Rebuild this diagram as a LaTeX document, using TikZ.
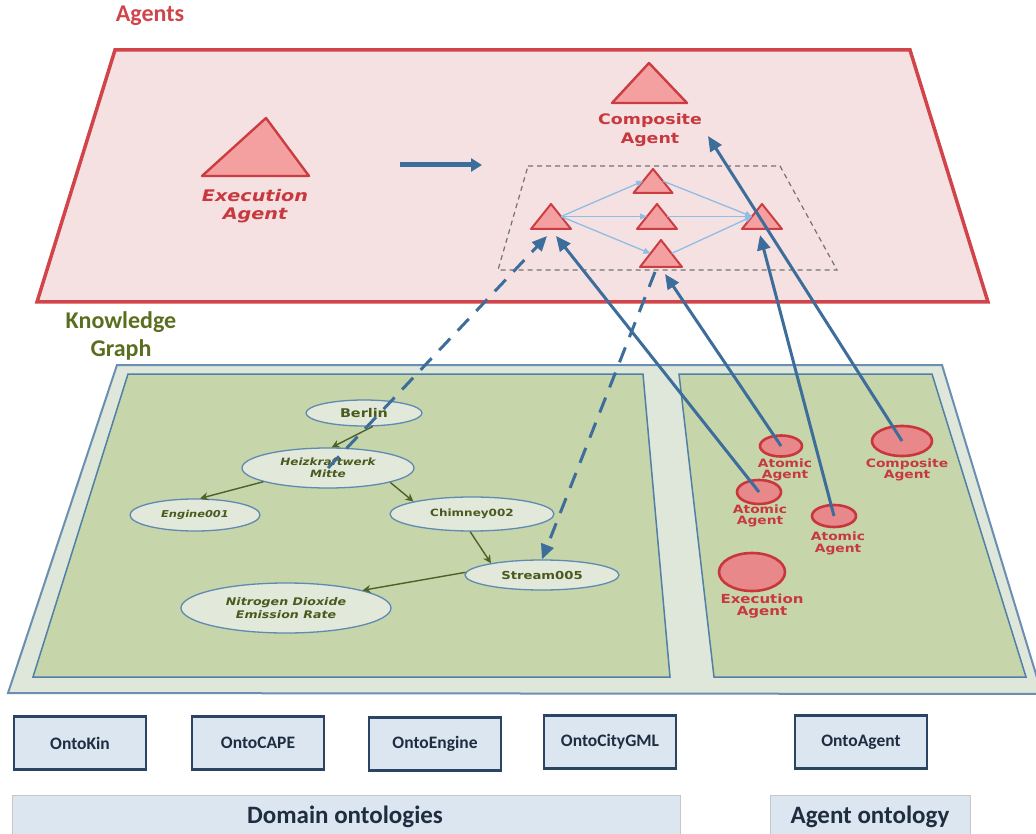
\documentclass[tikz,border=0pt]{standalone}
\usepackage{fontspec}
\setmainfont{Carlito}
\newfontfamily\vf[FakeStretch=1.2]{DejaVu Sans}
\usetikzlibrary{arrows.meta,shapes.geometric}

\definecolor{agred}{HTML}{D0444A}
\definecolor{planepink}{HTML}{F5E1E1}
\definecolor{trired}{HTML}{CC3D42}
\definecolor{trifill}{HTML}{F4A0A1}
\definecolor{lblred}{HTML}{C8393F}
\definecolor{kgouter}{HTML}{DEE7DA}
\definecolor{kgedge}{HTML}{6A8FB2}
\definecolor{kginner}{HTML}{C6D5AA}
\definecolor{kginedge}{HTML}{5080A8}
\definecolor{ellfill}{HTML}{E2E9DA}
\definecolor{elledge}{HTML}{5F8AB2}
\definecolor{kgtext}{HTML}{4A5A1E}
\definecolor{kgtitle}{HTML}{5B6E1F}
\definecolor{kgarrow}{HTML}{4D6226}
\definecolor{circfill}{HTML}{E8888B}
\definecolor{circedge}{HTML}{C8373C}
\definecolor{linkblue}{HTML}{3D6D9B}
\definecolor{flowblue}{HTML}{8FBDE6}
\definecolor{boxfill}{HTML}{DCE6F1}
\definecolor{boxedge}{HTML}{2C4463}
\definecolor{boxtext}{HTML}{1F2D40}

% one small agent triangle with anchor coordinates on its left and right flanks
\newcommand\smalltri[5]{%
  \draw[tri,line width=2pt] ({#2-#5},#4) -- (#2,#3) -- ({#2+#5},#4) -- cycle;
  \coordinate (#1-l) at ({#2-#5/2},{(#3+#4)/2});
  \coordinate (#1-r) at ({#2+#5/2},{(#3+#4)/2});
}

\begin{document}
\begin{tikzpicture}[x=1pt,y=-1pt,
  plane/.style={draw=agred, line width=3.5pt, fill=planepink},
  tri/.style={draw=trired, line width=2.4pt, fill=trifill, line join=round},
  redlbl/.style={text=lblred, align=center, inner sep=0pt},
  ell/.style={ellipse, draw=elledge, line width=1.3pt, fill=ellfill, inner sep=0pt,
    text=kgtext, align=center},
  circ/.style={ellipse, draw=circedge, line width=2.6pt, fill=circfill, inner sep=0pt},
  kgarr/.style={draw=kgarrow, line width=1.4pt, -{Stealth[length=8pt,width=8pt]}},
  link/.style={draw=linkblue, line width=3pt, -{Triangle[length=15pt,width=13pt]}},
  dlink/.style={link, dash pattern=on 16pt off 11pt},
  flow/.style={draw=flowblue, line width=1.3pt, -{Triangle[length=7pt,width=6pt]}},
  ontobox/.style={draw=boxedge, line width=2.8pt, fill=boxfill, minimum width=132pt,
    minimum height=53pt, text=boxtext, font=\bfseries\fontsize{17.5}{20}\selectfont},
  groupbox/.style={draw=black!22, line width=0.8pt, fill=boxfill},
  grouptxt/.style={text=boxtext, font=\bfseries\fontsize{25}{29}\selectfont}
]
\useasboundingbox (0,0) rectangle (1036,834);

% ---------------- agent layer ----------------
\draw[plane] (115,50) -- (910,50) -- (988,302) -- (37,302) -- cycle;
\node[text=agred, font=\bfseries\fontsize{24}{28}\selectfont] (agentsttl) at (150,16) {Agents};

\draw[tri] (202,176) -- (266,118) -- (309,176) -- cycle;
\node[redlbl, font=\vf\bfseries\itshape\fontsize{16}{18.5}\selectfont] (execlbl) at (255,206) {Execution\\Agent};

\draw[tri] (612,103) -- (649,63) -- (687,103) -- cycle;
\node[redlbl, font=\vf\bfseries\fontsize{14.5}{19}\selectfont] (complbl) at (650,130) {Composite\\Agent};

\coordinate (composeA) at (400,165);
\coordinate (composeB) at (482,165);
\draw[draw=linkblue, line width=5pt, -{Triangle[length=11pt,width=13pt]}] (composeA) -- (composeB);

% composite agent made of atomic agents
\draw[draw=black!55, line width=1.2pt, dash pattern=on 5pt off 4pt] (528,166) -- (780,166) -- (837,270) -- (498,270) -- cycle;
\smalltri{ta}{551}{204}{229}{20}
\smalltri{tb}{653}{169}{193}{19.5}
\smalltri{tc}{657}{204}{229}{20}
\smalltri{td}{661}{240}{267}{21}
\smalltri{te}{762}{204}{229}{20}
\draw[flow] (ta-r) -- (tb-l);
\draw[flow] (ta-r) -- (tc-l);
\draw[flow] (ta-r) -- (td-l);
\draw[flow] (tb-r) -- (te-l);
\draw[flow] (tc-r) -- (te-l);
\draw[flow] (td-r) -- (te-l);

% ---------------- knowledge graph layer ----------------
\node[text=kgtitle, align=center, font=\bfseries\fontsize{24}{28}\selectfont] (kgttl) at (121,336) {Knowledge\\Graph};

\draw[draw=kgedge, line width=2pt, fill=kgouter] (117,365) -- (942,365) -- (1042,694) -- (8,693) -- cycle;
\draw[draw=kginedge, line width=1.5pt, fill=kginner] (128,374) -- (643,374) -- (670,677) -- (33,677) -- cycle;
\draw[draw=kginedge, line width=1.5pt, fill=kginner] (679,374) -- (932,374) -- (1026,677) -- (714,677) -- cycle;

\node[ell, minimum width=116pt, minimum height=26pt, font=\vf\bfseries\fontsize{12}{13}\selectfont] (berlin) at (364,413) {Berlin};
\node[ell, minimum width=172pt, minimum height=40pt, font=\vf\bfseries\itshape\fontsize{10}{12.5}\selectfont] (heiz) at (328,468) {Heizkraftwerk\\Mitte};
\node[ell, minimum width=130pt, minimum height=32pt, font=\vf\bfseries\itshape\fontsize{9.5}{12}\selectfont] (engine) at (195,515) {Engine001};
\node[ell, minimum width=164pt, minimum height=34pt, font=\vf\bfseries\fontsize{10}{12}\selectfont] (chimney) at (472,514) {Chimney002};
\node[ell, minimum width=154pt, minimum height=30pt, font=\vf\bfseries\fontsize{11}{12}\selectfont] (stream) at (542,575) {Stream005};
\node[ell, minimum width=210pt, minimum height=50pt, font=\vf\bfseries\itshape\fontsize{10.5}{13.5}\selectfont] (no2) at (286,608) {Nitrogen Dioxide\\Emission Rate};

\draw[kgarr] (berlin.-57) -- (heiz.80);
\draw[kgarr] (heiz.192) -- (engine.73);
\draw[kgarr] (heiz.347) -- (chimney.168);
\draw[kgarr] (chimney.264) -- (stream.167);
\draw[kgarr] (stream.178) -- (no2.13);

% agent instances
\node[circ, minimum width=42pt, minimum height=21pt] (atomA) at (781,446) {};
\node[circ, minimum width=44pt, minimum height=24pt] (atomB) at (759,492) {};
\node[circ, minimum width=44pt, minimum height=22pt] (atomC) at (834,516) {};
\node[circ, minimum width=60pt, minimum height=30pt] (compc) at (902,441) {};
\node[circ, minimum width=66pt, minimum height=38pt] (execc) at (752,572) {};
\node[redlbl, font=\vf\bfseries\fontsize{11.5}{11.5}\selectfont] (atomAlbl) at (785,470) {Atomic\\Agent};
\node[redlbl, font=\vf\bfseries\fontsize{11.5}{11.5}\selectfont] (atomBlbl) at (760,516) {Atomic\\Agent};
\node[redlbl, font=\vf\bfseries\fontsize{11.5}{12}\selectfont] (atomClbl) at (838,543) {Atomic\\Agent};
\node[redlbl, font=\vf\bfseries\fontsize{11.5}{11.5}\selectfont] (compclbl) at (907,470) {Composite\\Agent};
\node[redlbl, font=\vf\bfseries\fontsize{12.5}{12.5}\selectfont] (execclbl) at (762,606) {Execution\\Agent};

% ---------------- links between the layers ----------------
\coordinate (taIn) at (556,236);
\coordinate (taDash) at (547,236);
\coordinate (tdIn) at (665,274);
\coordinate (tdOut) at (655,272);
\coordinate (teIn) at (760,235);
\coordinate (compIn) at (708,136);
\draw[link] (atomB.center) -- (taIn);
\draw[link] (atomA.center) -- (tdIn);
\draw[link] (atomC.center) -- (teIn);
\draw[link] (compc.center) -- (compIn);
\draw[dlink] (heiz.center) -- (taDash);
\draw[dlink] (tdOut) -- (stream.north);

% ---------------- ontologies ----------------
\node[ontobox] (ontokin) at (80,743) {OntoKin};
\node[ontobox] (ontocape) at (258,743) {OntoCAPE};
\node[ontobox] (ontoengine) at (435,744) {OntoEngine};
\node[ontobox] (ontocity) at (610,742) {OntoCityGML};
\node[ontobox] (ontoagent) at (861,742) {OntoAgent};

\draw[groupbox] (12,795) rectangle (680,845);
\draw[groupbox] (770,795) rectangle (970,845);
\node[grouptxt] (domain) at (345,817) {Domain ontologies};
\node[grouptxt] (agentont) at (870,817) {Agent ontology};
\end{tikzpicture}
\end{document}
